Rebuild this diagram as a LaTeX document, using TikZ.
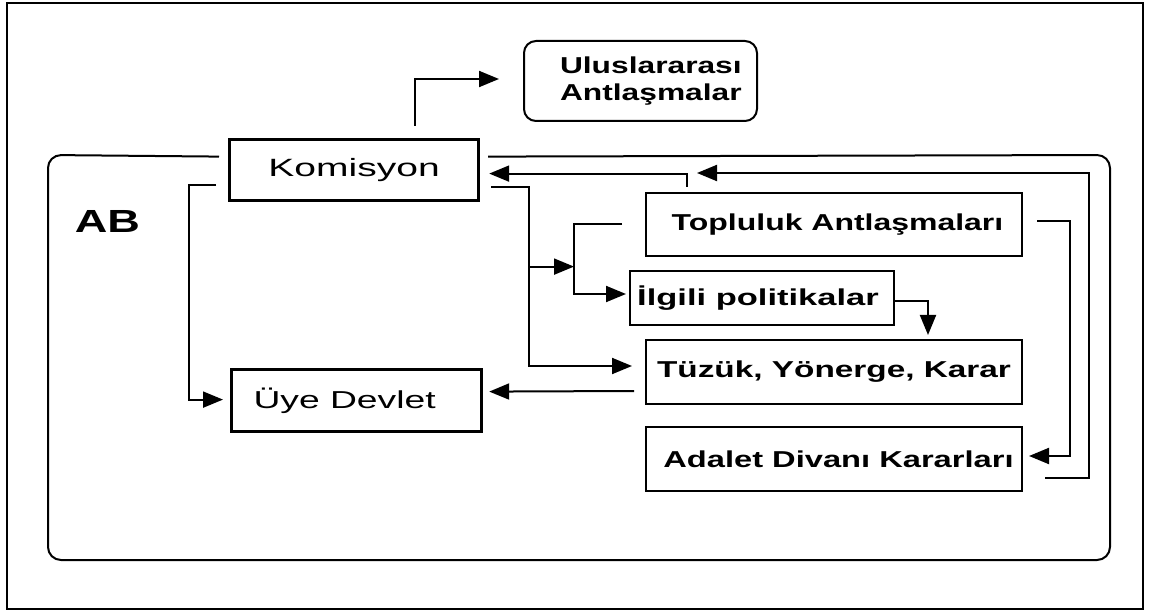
\documentclass[tikz,border=0pt]{standalone}
\usepackage{fontspec}
\setmainfont{Liberation Sans}
\usetikzlibrary{arrows.meta,calc}
\newcommand\wt[2]{\scalebox{#1}[1]{#2}}
\begin{document}
\begin{tikzpicture}[x=1pt,y=-1pt,
  line/.style={line width=2pt, draw=black},
  arr/.style={line, -{Triangle[length=20pt,width=16pt]}},
  box/.style={draw, line width=2pt, inner sep=0pt, anchor=north west},
  thickbox/.style={box, line width=3.2pt},
  boldlbl/.style={font=\fontsize{23}{27}\selectfont\bfseries}]
\useasboundingbox (0,0) rectangle (1149,612);
\draw[line width=2pt] (7,3) rectangle (1143,609);

% nodes
\node[thickbox, minimum width=249, minimum height=61, font=\fontsize{25}{29}\selectfont] (kom) at (228,138) {\wt{1.56}{Komisyon}};
\node[box, rounded corners=12pt, minimum height=80, text width=233pt, align=left, font=\fontsize{23}{27}\selectfont\bfseries] (ulus) at (523,40)
  {\hspace*{36pt}\wt{1.38}{Uluslararası}\\\hspace*{36pt}\wt{1.38}{Antlaşmalar}};
\node[thickbox, minimum width=250, minimum height=62, font=\fontsize{24.5}{28}\selectfont] (uye) at (230,368) {\wt{1.52}{Üye Devlet}\kern24pt};
\node[box, boldlbl, minimum width=376, minimum height=63] (top) at (645,192) {\kern7pt\wt{1.39}{Topluluk Antlaşmaları}};
\node[box, boldlbl, minimum width=264, minimum height=54] (ilg) at (629,270) {\wt{1.50}{İlgili politikalar}\kern8pt};
\node[box, boldlbl, minimum width=376, minimum height=64] (tuz) at (645,339) {\wt{1.45}{Tüzük, Yönerge, Karar}};
\node[box, boldlbl, minimum width=376, minimum height=64] (ada) at (645,426) {\kern9pt\wt{1.42}{Adalet Divanı Kararları}};
\node[inner sep=0pt, font=\fontsize{32}{36}\selectfont\bfseries] (ab) at (107.5,221.5) {\wt{1.41}{AB}};

% AB container
\draw[line, rounded corners=13pt] ($(kom.west)+(-9,-13.5)$) -- (48,155) -- (48,560) -- (1110,560) -- (1110,155) -- ($(kom.east)+(8,-13.5)$);

% connectors
\draw[arr] ($(kom.north west)+(187,-12)$) |- ($(ulus.west)+(-24,-2)$);
\draw[arr] ($(kom.west)+(-12,14.5)$) -- ++(-27,0) |- ($(uye.west)+(-7,-1)$);
\draw[arr] ($(top.north west)+(42,-5)$) |- ($(kom.east)+(9,3.5)$);
\draw[arr] ($(kom.east)+(11,16.5)$) -- ++(38,0) coordinate (vd) |- ($(tuz.west)+(-13,-6)$);
\draw[arr] ($(top.west)+(-23,-0.5)$) -- ++(-48,0) coordinate (jt) |- ($(ilg.west)+(-3,-4)$);
\coordinate (br) at ($(vd)+(0,80)$);
\draw[arr] (br) -- (br -| jt);
\draw[arr] ($(ilg.east)+(0,3)$) -| ($(tuz.north west)+(283,-4)$);
\draw[arr] ($(tuz.west)+(-11,19)$) -- ($(uye.east)+(6,-9)$);
\draw[arr] ($(top.east)+(14,-3.5)$) -- ++(33,0) |- ($(ada.east)+(6,-3)$);
\draw[arr] ($(ada.east)+(22,19)$) -- ++(44,0) |- ($(top.north west)+(52,-19)$);
\end{tikzpicture}
\end{document}
